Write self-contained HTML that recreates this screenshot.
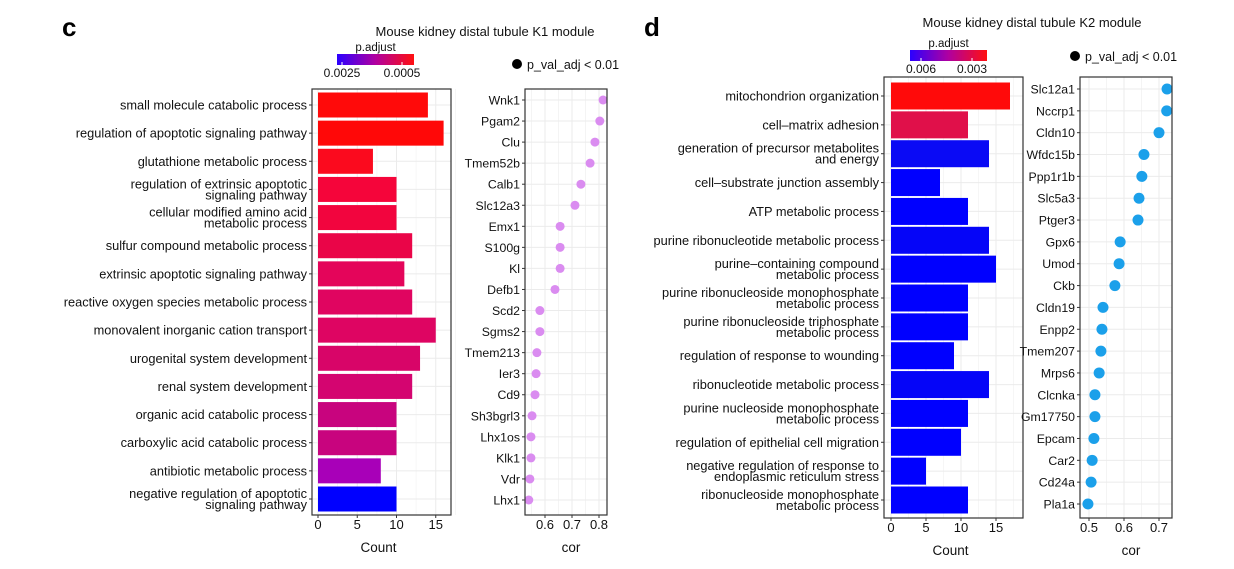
<!DOCTYPE html>
<html><head><meta charset="utf-8"><style>
body{margin:0;background:#fff}
svg{display:block;font-family:"Liberation Sans",Arial,sans-serif}
</style></head><body>
<svg id="s" width="1234" height="569" viewBox="0 0 1234 569">
<defs>
<linearGradient id="g1" x1="0" x2="1" y1="0" y2="0"><stop offset="0" stop-color="#2b00ff"/><stop offset="0.5" stop-color="#b000a0"/><stop offset="1" stop-color="#ff1010"/></linearGradient>
</defs>
<text x="62" y="36" font-size="26" font-weight="bold">c</text>
<text x="644" y="36" font-size="26" font-weight="bold">d</text>
</svg>
<script>
// ---- data ----
const cTerms=["small molecule catabolic process","regulation of apoptotic signaling pathway","glutathione metabolic process","regulation of extrinsic apoptotic\nsignaling pathway","cellular modified amino acid\nmetabolic process","sulfur compound metabolic process","extrinsic apoptotic signaling pathway","reactive oxygen species metabolic process","monovalent inorganic cation transport","urogenital system development","renal system development","organic acid catabolic process","carboxylic acid catabolic process","antibiotic metabolic process","negative regulation of apoptotic\nsignaling pathway"];
const cCounts=[14,16,7,10,10,12,11,12,15,13,12,10,10,8,10];
const cColors=["#ff0a0a","#ff0808","#fb0a1e","#f5053a","#f2053e","#ea0548","#e4055a","#e00560","#de0562","#d80568","#d40570","#c8047e","#c8047e","#a800b8","#0000ff"];
const cGenes=["Wnk1","Pgam2","Clu","Tmem52b","Calb1","Slc12a3","Emx1","S100g","Kl","Defb1","Scd2","Sgms2","Tmem213","Ier3","Cd9","Sh3bgrl3","Lhx1os","Klk1","Vdr","Lhx1"];
const cCor=[0.815,0.803,0.785,0.767,0.733,0.711,0.656,0.656,0.656,0.637,0.581,0.581,0.57,0.567,0.563,0.552,0.548,0.548,0.544,0.54];
const dTerms=["mitochondrion organization","cell\u2013matrix adhesion","generation of precursor metabolites\nand energy","cell\u2013substrate junction assembly","ATP metabolic process","purine ribonucleotide metabolic process","purine\u2013containing compound\nmetabolic process","purine ribonucleoside monophosphate\nmetabolic process","purine ribonucleoside triphosphate\nmetabolic process","regulation of response to wounding","ribonucleotide metabolic process","purine nucleoside monophosphate\nmetabolic process","regulation of epithelial cell migration","negative regulation of response to\nendoplasmic reticulum stress","ribonucleoside monophosphate\nmetabolic process"];
const dCounts=[17,11,14,7,11,14,15,11,11,9,14,11,10,5,11];
const dColors=["#ff0a0a","#e0104a","#0a0af5","#0000ff","#0000ff","#0505f8","#0000ff","#0000ff","#0000ff","#0000ff","#0505f8","#0000ff","#0000ff","#0000ff","#0000ff"];
const dGenes=["Slc12a1","Nccrp1","Cldn10","Wfdc15b","Ppp1r1b","Slc5a3","Ptger3","Gpx6","Umod","Ckb","Cldn19","Enpp2","Tmem207","Mrps6","Clcnka","Gm17750","Epcam","Car2","Cd24a","Pla1a"];
const dCor=[0.723,0.722,0.7,0.657,0.651,0.643,0.64,0.589,0.586,0.574,0.54,0.537,0.534,0.529,0.517,0.517,0.514,0.509,0.506,0.497];
const cCountTicks=[0,5,10,15];
const cCorTicks=[0.6,0.7,0.8];
const dCountTicks=[0,5,10,15];
const dCorTicks=[0.5,0.6,0.7];

const S=document.getElementById('s');
const NS='http://www.w3.org/2000/svg';
function mk(tag,at,parent){const e=document.createElementNS(NS,tag);for(const k in at)e.setAttribute(k,at[k]);(parent||S).appendChild(e);return e;}
function txt(x,y,str,size,anchor,parent){const e=mk('text',{x:x,y:y,'font-size':size,'text-anchor':anchor||'start',fill:'#111'},parent);e.textContent=str;return e;}

function barPanel(o){
  const g=mk('g',{});
  
  
  const xs=v=>o.x0+v*o.k;
  const n=o.terms.length;
  const ys=i=>o.yFirst+i*(o.yLast-o.yFirst)/(n-1);
  for(let i=0;i<o.ticks.length;i++){
    const t=o.ticks[i];
    mk('line',{x1:xs(t),x2:xs(t),y1:o.top,y2:o.bot,stroke:'#ebebeb','stroke-width':1},g);
    mk('line',{x1:xs(t+2.5),x2:xs(t+2.5),y1:o.top,y2:o.bot,stroke:'#f4f4f4','stroke-width':0.8},g);
  }
  for(let i=0;i<n;i++) mk('line',{x1:o.left,x2:o.right,y1:ys(i),y2:ys(i),stroke:'#ebebeb'},g);
  for(let i=0;i<n;i++){
    const r=mk('rect',{x:xs(0),y:ys(i)-o.bh/2,width:xs(o.counts[i])-xs(0),height:o.bh,fill:o.colors[i]},g);
    
    
    const lines=o.terms[i].split('\n');
    mk('line',{x1:o.left-3,x2:o.left,y1:ys(i),y2:ys(i),stroke:'#333'},g);
    lines.forEach((l,j)=>{
      const yy=ys(i)+4.5+(j-(lines.length-1)/2)*11;
      const t=txt(o.left-5,yy,l,12.8,'end',g);
      
      
    });
  }
  mk('rect',{x:o.left,y:o.top,width:o.right-o.left,height:o.bot-o.top,fill:'none',stroke:'#333','stroke-width':1.2},g);
  o.ticks.forEach(t=>{
    mk('line',{x1:xs(t),x2:xs(t),y1:o.bot,y2:o.bot+3,stroke:'#333'},g);
    const l=txt(xs(t),o.bot+14,String(t),13,'middle',g);
    
    
  });
  const at=txt((o.left+o.right)/2-3,o.bot+37,'Count',13.5,'middle',g);
  
  
}
function dotPanel(o){
  const g=mk('g',{});
  
  
  const xs=v=>o.x0+(v-o.v0)*o.k;
  const n=o.genes.length;
  const ys=i=>o.yFirst+i*(o.yLast-o.yFirst)/(n-1);
  o.ticks.forEach(t=>{
    mk('line',{x1:xs(t),x2:xs(t),y1:o.top,y2:o.bot,stroke:'#ebebeb'},g);
    const m=xs(t+0.05); if(m<o.right) mk('line',{x1:m,x2:m,y1:o.top,y2:o.bot,stroke:'#f4f4f4'},g);
    const m2=xs(t-0.05); if(m2>o.left) mk('line',{x1:m2,x2:m2,y1:o.top,y2:o.bot,stroke:'#f4f4f4'},g);
  });
  for(let i=0;i<n;i++){
    mk('line',{x1:o.left,x2:o.right,y1:ys(i),y2:ys(i),stroke:'#ebebeb'},g);
    mk('line',{x1:o.left-3,x2:o.left,y1:ys(i),y2:ys(i),stroke:'#333'},g);
    const l=txt(o.left-5,ys(i)+4.5,o.genes[i],12.3,'end',g);
    
    
    const c=mk('circle',{cx:xs(o.vals[i]),cy:ys(i),r:o.r,fill:o.color},g);
    
    
  }
  mk('rect',{x:o.left,y:o.top,width:o.right-o.left,height:o.bot-o.top,fill:'none',stroke:'#333','stroke-width':1.2},g);
  o.ticks.forEach(t=>{
    mk('line',{x1:xs(t),x2:xs(t),y1:o.bot,y2:o.bot+3,stroke:'#333'},g);
    const l=txt(xs(t),o.bot+14,String(t),13,'middle',g);
    
    
  });
  const at=txt((o.left+o.right)/2+5,o.bot+37,'cor',13.5,'middle',g);
  
  
}
function legend(o){
  const g=mk('g',{});
  
  
  const t=txt(o.tx,o.ty,o.title,13,'middle',g);
  
  
  txt(o.gx+(o.gw/2),o.gy-3,'p.adjust',11.5,'middle',g);
  const r=mk('rect',{x:o.gx,y:o.gy,width:o.gw,height:11,fill:'url(#g1)'},g);
  
  
  o.labs.forEach((l,i)=>{
    mk('line',{x1:o.lx[i],x2:o.lx[i],y1:o.gy+8,y2:o.gy+11,stroke:'#fff'},g);
    txt(o.lx[i],o.gy+23,l,12,'middle',g);
  });
  mk('circle',{cx:o.dx,cy:o.dy,r:5,fill:'#000'},g);
  const d=txt(o.dx+10,o.dy+5,'p_val_adj < 0.01',12.5,'start',g);
  
  
}
barPanel({name:'k1',terms:cTerms,counts:cCounts,colors:cColors,left:312,right:451,top:89,bot:515,x0:318,k:7.85,yFirst:105,yLast:499,bh:25,ticks:cCountTicks});
dotPanel({name:'k1',genes:cGenes,vals:cCor,color:'#da8cf0',left:525,right:607,top:89,bot:515,x0:545,v0:0.6,k:270,yFirst:100,yLast:500,r:4.5,ticks:cCorTicks});
legend({name:'k1',title:'Mouse kidney distal tubule K1 module',tx:485,ty:36,gx:337,gy:54,gw:77,labs:['0.0025','0.0005'],lx:[342,402],dx:517,dy:64});
barPanel({name:'k2',terms:dTerms,counts:dCounts,colors:dColors,left:884,right:1023,top:77,bot:518,x0:891,k:7.0,yFirst:96,yLast:500,bh:27,ticks:dCountTicks});
dotPanel({name:'k2',genes:dGenes,vals:dCor,color:'#1ba0ea',left:1080,right:1172,top:77,bot:518,x0:1089,v0:0.5,k:350,yFirst:89,yLast:504,r:5.5,ticks:dCorTicks});
legend({name:'k2',title:'Mouse kidney distal tubule K2 module',tx:1032,ty:27,gx:910,gy:50,gw:77,labs:['0.006','0.003'],lx:[921,972],dx:1075,dy:56});
</script>
</body></html>
